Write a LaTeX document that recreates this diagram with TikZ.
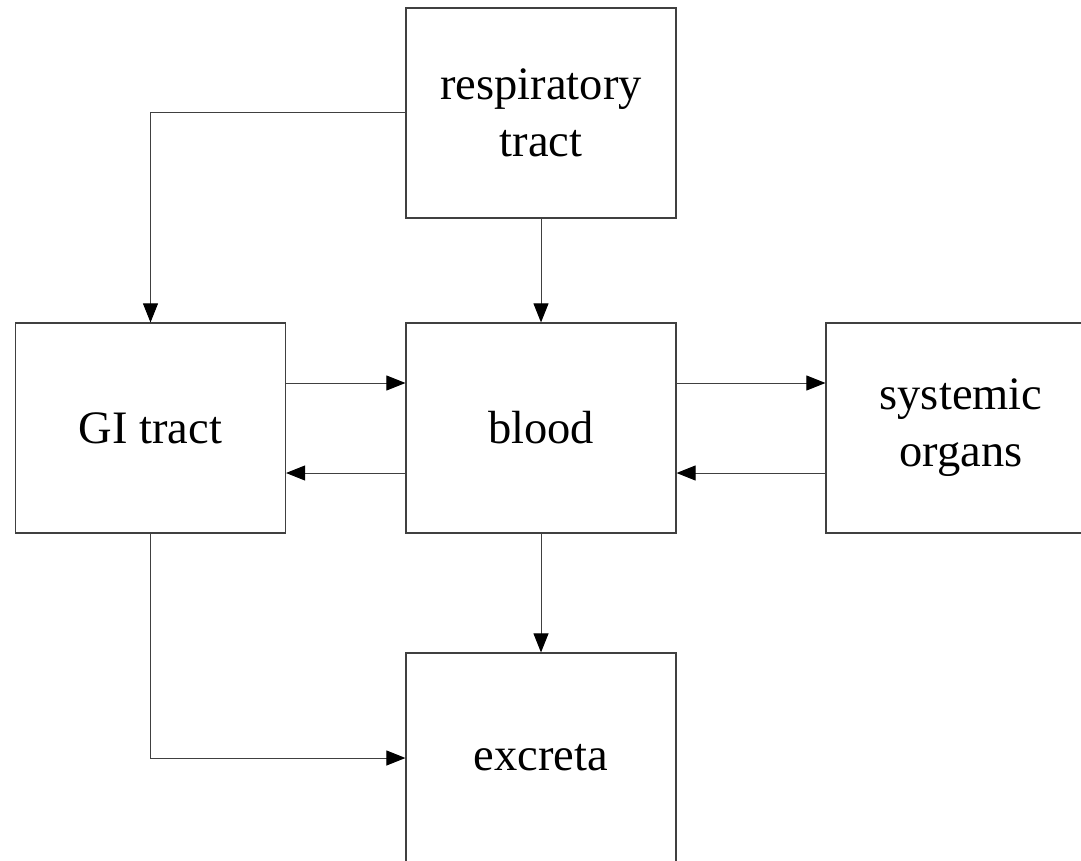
\documentclass[tikz,border=0pt]{standalone}
\usepackage{fontspec}
\setmainfont{Liberation Serif}
\usetikzlibrary{arrows.meta}
\definecolor{linegray}{HTML}{404040}
\begin{document}
\begin{tikzpicture}[x=1pt,y=1pt,
  box/.style={draw=linegray, line width=1.2pt, rectangle, minimum width=270pt, minimum height=210pt, inner sep=0pt, align=center,
    font=\fontsize{46.5}{57}\selectfont},
  arr/.style={draw=linegray, line width=1pt, -{Triangle[length=19pt,width=15pt,color=black]}},
  ln/.style={draw=linegray, line width=1pt}]
\clip (0,0) rectangle (1081,-861);
\fill[white] (0,0) rectangle (1081,-861);
\node[box] (resp) at (541,-113) {respiratory\\tract};
\node[box] (gi) at (150.5,-428) {GI tract};
\node[box] (blood) at (541,-428) {blood};
\node[box] (sys) at (961,-428) {systemic\\organs};
\node[box] (exc) at (541,-758) {excreta};
\draw[arr] (resp.west) -| (gi.north);
\draw[arr] (resp.south) -- (blood.north);
\draw[arr] ([yshift=45pt]gi.east) -- ([yshift=45pt]blood.west);
\draw[arr] ([yshift=-45pt]blood.west) -- ([yshift=-45pt]gi.east);
\draw[arr] ([yshift=45pt]blood.east) -- ([yshift=45pt]sys.west);
\draw[arr] ([yshift=-45pt]sys.west) -- ([yshift=-45pt]blood.east);
\draw[arr] (blood.south) -- (exc.north);
\draw[arr] (gi.south) |- (exc.west);
\end{tikzpicture}
\end{document}
